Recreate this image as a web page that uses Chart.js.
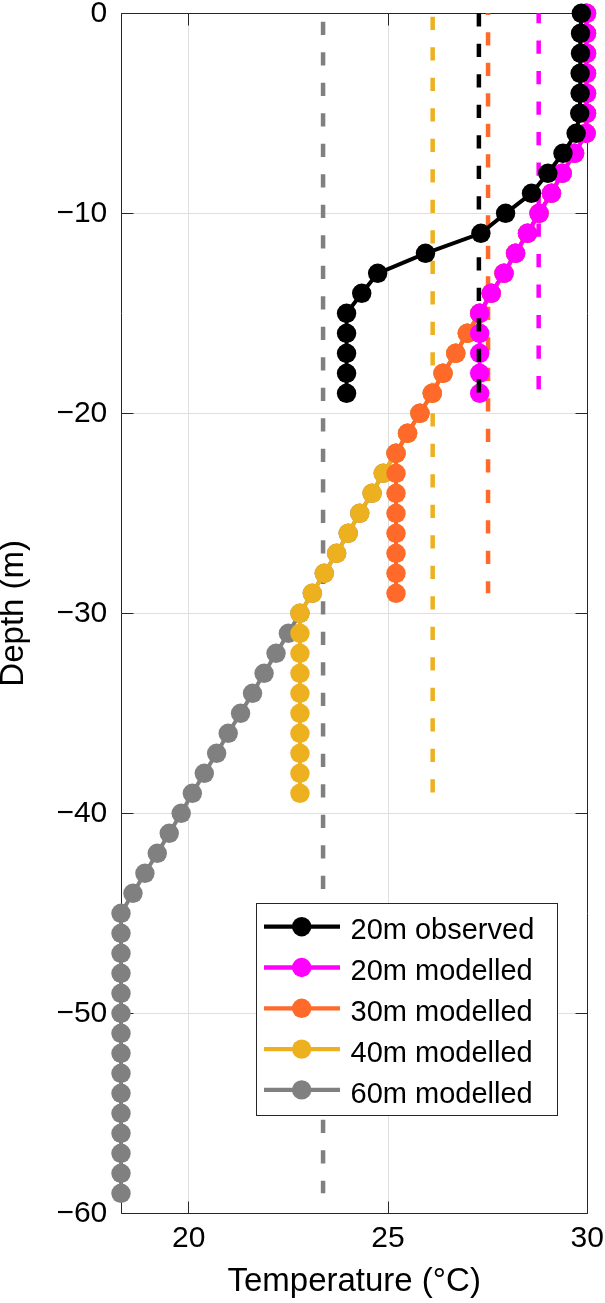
<!DOCTYPE html>
<html>
<head>
<meta charset="utf-8">
<script src="https://cdn.jsdelivr.net/npm/chart.js@4.4.1/dist/chart.umd.min.js"></script>
<style>
html,body{margin:0;padding:0;background:#fff;}
canvas{display:block;}
</style>
</head>
<body>
<canvas id="c" width="605" height="1303"></canvas>
<script>
// ---------------- DATA ----------------
const seriesLabels = ['20m observed', '20m modelled', '30m modelled', '40m modelled', '60m modelled'];

const depth20 = [0,-1,-2,-3,-4,-5,-6,-7,-8,-9,-10,-11,-12,-13,-14,-15,-16,-17,-18,-19];
const depth30 = [0,-1,-2,-3,-4,-5,-6,-7,-8,-9,-10,-11,-12,-13,-14,-15,-16,-17,-18,-19,
                 -20,-21,-22,-23,-24,-25,-26,-27,-28,-29];
const depth40 = [0,-1,-2,-3,-4,-5,-6,-7,-8,-9,-10,-11,-12,-13,-14,-15,-16,-17,-18,-19,
                 -20,-21,-22,-23,-24,-25,-26,-27,-28,-29,-30,-31,-32,-33,-34,-35,-36,-37,-38,-39];
const depth60 = [0,-1,-2,-3,-4,-5,-6,-7,-8,-9,-10,-11,-12,-13,-14,-15,-16,-17,-18,-19,
                 -20,-21,-22,-23,-24,-25,-26,-27,-28,-29,-30,-31,-32,-33,-34,-35,-36,-37,-38,-39,
                 -40,-41,-42,-43,-44,-45,-46,-47,-48,-49,-50,-51,-52,-53,-54,-55,-56,-57,-58,-59];

const temp20Observed = [29.85,29.83,29.83,29.82,29.82,29.81,29.72,29.39,29.01,28.60,
                        27.95,27.33,25.94,24.74,24.34,23.96,23.96,23.96,23.96,23.96];
const temp20Modelled = [29.98,29.98,29.98,29.98,29.98,29.98,29.97,29.68,29.37,29.10,
                        28.79,28.50,28.20,27.91,27.59,27.30,27.30,27.30,27.30,27.30];
const temp30Modelled = [29.98,29.98,29.98,29.98,29.98,29.98,29.97,29.68,29.37,29.10,
                        28.79,28.50,28.20,27.91,27.59,27.30,26.99,26.70,26.38,26.11,
                        25.80,25.49,25.20,25.20,25.20,25.20,25.20,25.20,25.20,25.20];
const temp40Modelled = [29.98,29.98,29.98,29.98,29.98,29.98,29.97,29.68,29.37,29.10,
                        28.79,28.50,28.20,27.91,27.59,27.30,26.99,26.70,26.38,26.11,
                        25.80,25.49,25.20,24.88,24.60,24.29,24.00,23.71,23.40,23.10,
                        22.79,22.79,22.79,22.79,22.79,22.79,22.79,22.79,22.79,22.79];
const temp60Modelled = [29.98,29.98,29.98,29.98,29.98,29.98,29.97,29.68,29.37,29.10,
                        28.79,28.50,28.20,27.91,27.59,27.30,26.99,26.70,26.38,26.11,
                        25.80,25.49,25.20,24.88,24.60,24.29,24.00,23.71,23.40,23.10,
                        22.79,22.50,22.19,21.89,21.60,21.30,20.99,20.70,20.39,20.09,
                        19.81,19.51,19.21,18.90,18.60,18.30,18.30,18.30,18.30,18.30,
                        18.30,18.30,18.30,18.30,18.30,18.30,18.30,18.30,18.30,18.30];

// column-mean temperatures (dashed verticals)
const mean20Observed = 27.28;
const mean20Modelled = 28.78;
const mean30Modelled = 27.51;
const mean40Modelled = 26.12;
const mean60Modelled = 23.37;

const xTickValues = [20, 25, 30];
const yTickValues = [0, -10, -20, -30, -40, -50, -60];

// ---------------- STYLE ----------------
const COLORS = ['#000000', '#FF00FF', '#FF6929', '#EDB120', '#808080'];
const AXIS_COLOR = '#262626';
const GRID_COLOR = '#DFDFDF';
const FONT = "'Liberation Sans', Arial, Helvetica, sans-serif";
const DASH = [13.3, 17.2];

function pts(xs, ys) { return xs.map((x, i) => ({x: x, y: ys[i]})); }

function profile(idx, temps, depths) {
  const c = COLORS[idx];
  return {
    label: seriesLabels[idx], data: pts(temps, depths), showLine: true,
    borderColor: c, backgroundColor: c, borderWidth: 4,
    pointRadius: 9.7, pointHoverRadius: 9.7, pointBorderWidth: 0, pointBackgroundColor: c,
    clip: false, isProfile: true
  };
}
function meanLine(idx, mean, depths, dashOffset) {
  return {
    label: '', data: [{x: mean, y: depths[0]}, {x: mean, y: depths[depths.length - 1]}],
    showLine: true, borderColor: COLORS[idx], borderWidth: 4.5,
    borderDash: DASH, borderDashOffset: dashOffset,
    pointRadius: 0, pointHoverRadius: 0, clip: false, isProfile: false
  };
}

// first dataset is drawn on top
const datasets = [
  meanLine(0, mean20Observed, depth20, 0),
  profile(0, temp20Observed, depth20),
  meanLine(1, mean20Modelled, depth20, 3.3),
  profile(1, temp20Modelled, depth20),
  meanLine(2, mean30Modelled, depth30, 11.6),
  profile(2, temp30Modelled, depth30),
  meanLine(3, mean40Modelled, depth40, 27.1),
  profile(3, temp40Modelled, depth40),
  meanLine(4, mean60Modelled, depth60, 22.1),
  profile(4, temp60Modelled, depth60)
];

const LEGEND = {left: 256, top: 903.3, width: 301.3, height: 211.7,
                row0: 926.7, rowGap: 40.8, lineX0: 264, lineX1: 340, dotX: 301.7,
                textX: 350.5, baseOff: 12.6, fontSize: 29};

const framePlugin = {
  id: 'frame',
  beforeDatasetsDraw(chart) {
    const {ctx, chartArea: a, scales} = chart;
    const L = Math.floor(a.left) + 0.5, R = Math.floor(a.right) + 0.5;
    const T = Math.floor(a.top) + 0.5, B = Math.floor(a.bottom) + 0.5;
    ctx.save();
    ctx.strokeStyle = AXIS_COLOR;
    ctx.lineWidth = 1;
    ctx.beginPath();
    ctx.rect(L, T, R - L, B - T);
    const tl = 12;
    xTickValues.forEach(v => {
      const p = Math.floor(scales.x.getPixelForValue(v)) + 0.5;
      ctx.moveTo(p, B); ctx.lineTo(p, B - tl);
      ctx.moveTo(p, T); ctx.lineTo(p, T + tl);
    });
    yTickValues.forEach(v => {
      const p = Math.floor(scales.y.getPixelForValue(v)) + 0.5;
      ctx.moveTo(L, p); ctx.lineTo(L + tl, p);
      ctx.moveTo(R, p); ctx.lineTo(R - tl, p);
    });
    ctx.stroke();
    ctx.restore();
  }
};

const legendPlugin = {
  id: 'insideLegend',
  afterDatasetsDraw(chart) {
    const ctx = chart.ctx;
    const g = LEGEND;
    ctx.save();
    ctx.fillStyle = '#ffffff';
    ctx.fillRect(g.left, g.top, g.width, g.height);
    ctx.strokeStyle = AXIS_COLOR;
    ctx.lineWidth = 1;
    ctx.strokeRect(Math.floor(g.left) + 0.5, Math.floor(g.top) + 0.5,
                   Math.round(g.width), Math.round(g.height));
    const profiles = chart.data.datasets.filter(d => d.isProfile);
    profiles.forEach((d, i) => {
      const y = g.row0 + i * g.rowGap;
      ctx.strokeStyle = d.borderColor;
      ctx.lineWidth = 4.3;
      ctx.beginPath();
      ctx.moveTo(g.lineX0, y); ctx.lineTo(g.lineX1, y);
      ctx.stroke();
      ctx.fillStyle = d.borderColor;
      ctx.beginPath();
      ctx.arc(g.dotX, y, 9.7, 0, Math.PI * 2);
      ctx.fill();
      ctx.fillStyle = '#000';
      ctx.font = g.fontSize + 'px ' + FONT;
      ctx.textAlign = 'left';
      ctx.textBaseline = 'alphabetic';
      ctx.fillText(d.label, g.textX, y + g.baseOff);
    });
    ctx.restore();
  }
};

function minusFmt(v) { return v < 0 ? '\u2212' + Math.abs(v) : String(v); }

new Chart(document.getElementById('c'), {
  type: 'scatter',
  data: {datasets: datasets},
  options: {
    responsive: false,
    animation: false,
    events: [],
    layout: {padding: {left: 0, right: 17.7, top: 13.3, bottom: 0}},
    plugins: {legend: {display: false}, tooltip: {enabled: false}},
    scales: {
      x: {
        type: 'linear', position: 'bottom', min: 18.3, max: 30,
        afterBuildTicks: s => { s.ticks = xTickValues.map(v => ({value: v})); },
        afterFit: s => { s.height = 89.7; s.paddingLeft = 0; s.paddingRight = 0; s.paddingTop = 0; s.paddingBottom = 0; },
        grid: {color: GRID_COLOR, lineWidth: 1, drawTicks: false},
        border: {display: false},
        ticks: {padding: 7.6, color: '#000', font: {family: FONT, size: 30}, maxRotation: 0, autoSkip: false,
                callback: v => minusFmt(v)},
        title: {display: true, text: 'Temperature (°C)', color: '#000',
                font: {family: FONT, size: 33, lineHeight: 1.2}, padding: {top: 0, bottom: 1.3}}
      },
      y: {
        type: 'linear', position: 'left', min: -60, max: 0,
        afterBuildTicks: s => { s.ticks = yTickValues.map(v => ({value: v})); },
        afterFit: s => { s.width = 121; s.paddingLeft = 0; s.paddingRight = 0; s.paddingTop = 0; s.paddingBottom = 0; },
        grid: {color: GRID_COLOR, lineWidth: 1, drawTicks: false},
        border: {display: false},
        ticks: {padding: 13.7, color: '#000', font: {family: FONT, size: 30}, autoSkip: false,
                callback: v => minusFmt(v)},
        title: {display: true, text: 'Depth (m)', color: '#000',
                font: {family: FONT, size: 33, lineHeight: 0.7}, padding: {top: 2, bottom: 0}}
      }
    }
  },
  plugins: [framePlugin, legendPlugin]
});
</script>
</body>
</html>
